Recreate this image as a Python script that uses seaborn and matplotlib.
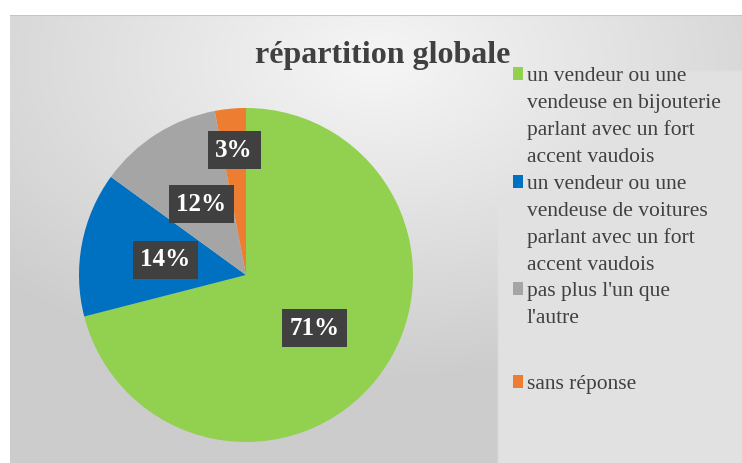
import numpy as np
import matplotlib
matplotlib.use("Agg")
import matplotlib.pyplot as plt
import seaborn as sns
from matplotlib.patches import Rectangle

categories = [
    "un vendeur ou une\nvendeuse en bijouterie\nparlant avec un fort\naccent vaudois",
    "un vendeur ou une\nvendeuse de voitures\nparlant avec un fort\naccent vaudois",
    "pas plus l'un que\nl'autre",
    "sans réponse",
]
values = [71, 14, 12, 3]
pct_labels = ["71%", "14%", "12%", "3%"]
colors = ["#92d050", "#0070c0", "#a5a5a5", "#ed7d31"]

sns.set_theme(style="white")
SERIF = ['Liberation Serif', 'DejaVu Serif']
plt.rcParams['font.family'] = SERIF

W, H = 742, 463
fig = plt.figure(figsize=(W / 100, H / 100), dpi=100)
fig.patch.set_facecolor("white")

# background panel with soft gradient
bg = fig.add_axes([10 / W, 0, (W - 10) / W, (H - 15) / H])
bg.set_axis_off()
ny, nx = 200, 300
yy, xx = np.mgrid[0:ny, 0:nx]
cx, cy = 0.5 * nx, 0.1 * ny
d = np.sqrt(((xx - cx) / nx) ** 2 + ((yy - cy) / ny) ** 2)
val = 0.965 - 0.23 * np.clip(d, 0, 1)
val = np.clip(val, 0.80, 0.96)
panel = xx > (497 - 10) / (W - 10) * nx
val = np.where(panel & (yy > 0.12 * ny), np.maximum(val, 0.885), val)
img = np.dstack([val, val, val])
bg.imshow(img, extent=[0, 1, 0, 1], origin="upper", aspect="auto", interpolation="bilinear")
bg.set_xlim(0, 1)
bg.set_ylim(0, 1)
bg.plot([0, 1], [0.999, 0.999], color="#c4c4c4", lw=1.5)

# pie
ax = fig.add_axes([79 / W, 21 / H, 334 / W, 334 / H])
wedges, _ = ax.pie(values, colors=colors, startangle=90, counterclock=False,
                   wedgeprops=dict(linewidth=0))
ax.set_xlim(-1, 1)
ax.set_ylim(-1, 1)
ax.set_aspect("equal")
ax.set_axis_off()

label_dist = [0.52, 0.49, 0.50, 0.75]
for w, lab, dist in zip(wedges, pct_labels, label_dist):
    ang = np.deg2rad((w.theta1 + w.theta2) / 2)
    ax.text(dist * np.cos(ang), dist * np.sin(ang), lab, ha="center", va="center",
            color="white", fontsize=18, fontweight="bold", family=SERIF,
            bbox=dict(boxstyle="square,pad=0.3", fc="#404040", ec="none"))

# title
fig.text(383 / W, 1 - 55 / H, "répartition globale", ha="center", va="center",
         fontsize=23, fontweight="bold", color="#404040", family=SERIF)

# legend (manual, Excel-like layout)
entry_tops = [81, 189, 296, 389]
line_h = 27
for lab, col, y0 in zip(categories, colors, entry_tops):
    fig.patches.append(Rectangle((513 / W, 1 - (y0 - 1) / H), 10 / W, 13 / H,
                                 transform=fig.transFigure, fc=col, ec="none"))
    for i, line in enumerate(lab.split("\n")):
        fig.text(527 / W, 1 - (y0 + i * line_h) / H, line, ha="left", va="baseline",
                 fontsize=15.5, color="#404040", family=SERIF)

fig.savefig("out.png", dpi=100, facecolor=fig.get_facecolor())
